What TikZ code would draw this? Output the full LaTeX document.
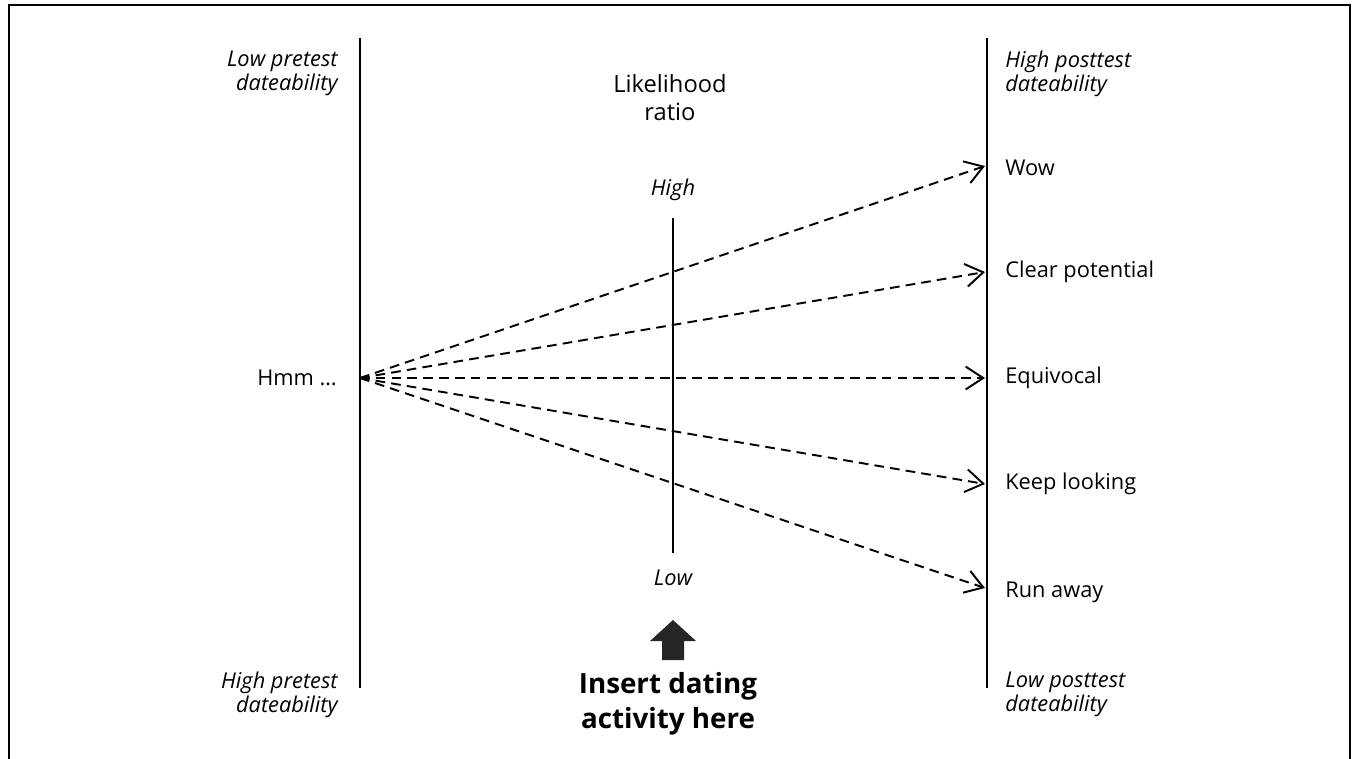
\documentclass[tikz,border=0pt]{standalone}
\usepackage{fontspec}
\setmainfont{Open Sans}
\usepackage{tikz}
\usetikzlibrary{arrows.meta,positioning}

\begin{document}
\begin{tikzpicture}[x=0.02cm, y=-0.02cm,
    axis/.style={line width=1.1pt},
    lab/.style={font=\fontsize{12.4}{13.6}\selectfont, inner sep=0pt, align=left},
    ilab/.style={font=\fontsize{12.4}{13.6}\selectfont\itshape, inner sep=0pt},
    guess/.style={dashed, line width=1.1pt, dash pattern=on 5.5pt off 3.5pt,
        -{Straight Barb[length=10pt, width=13pt, line width=1.1pt]}}]
% nomogram for the dateability of a first meeting

\useasboundingbox (0,0) rectangle (1355,758);
\draw[line width=0.8pt] (9,760) -- (9,5) -- (1350,5) -- (1350,760);

% the three scales
\coordinate (pretop) at (360,38);
\coordinate (prebot) at (360,688);
\coordinate (posttop) at (987,38);
\coordinate (postbot) at (987,688);
\draw[axis] (pretop) -- (prebot);
\draw[axis] (posttop) -- (postbot);
\node[ilab] (lrhigh) at (673,190) {High};
\node[ilab] (lrlow) at (673,578) {Low};
\draw[line width=0.6pt] (673,218) -- (673,553);
\node[font=\fontsize{13.5}{16}\selectfont, align=center, inner sep=0pt] (lrtitle)
    at (670,98) {Likelihood\\ratio};

% scale ends
\node[ilab, align=right, anchor=north east] (lowpre) at (338,51) {Low pretest\\dateability};
\node[ilab, align=right, anchor=north east] (highpre) at (338,672) {High pretest\\dateability};
\node[ilab, align=left, anchor=north west] (highpost) at (1005,51) {High posttest\\dateability};
\node[ilab, align=left, anchor=north west] (lowpost) at (1005,672) {Low posttest\\dateability};

% pretest point and outcomes
\coordinate (hmmpt) at (360,378);
\node[lab, anchor=east] (hmm) at (337,378) {Hmm \dots};
\coordinate (wowpt) at (985,166);
\coordinate (clearpt) at (985,272);
\coordinate (equipt) at (985,378);
\coordinate (keeppt) at (985,484);
\coordinate (runpt) at (985,588);
\node[lab, anchor=west] (wow) at (1005,168) {Wow};
\node[lab, anchor=west] (clear) at (1005,272) {Clear potential};
\node[lab, anchor=west] (equi) at (1005,378) {Equivocal};
\node[lab, anchor=west] (keep) at (1005,484) {Keep looking};
\node[lab, anchor=west] (run) at (1005,592) {Run away};
\foreach \e in {wowpt,clearpt,equipt,keeppt,runpt}
    \draw[guess] (hmmpt) -- (\e);

% where the test goes in
\fill[black!85] (673,620) -- (696,641) -- (684,641) -- (684,660)
    -- (662,660) -- (662,641) -- (650,641) -- cycle;
\node[font=\fontsize{15.8}{20}\selectfont\bfseries, align=center, inner sep=0pt]
    (insert) at (668,704) {Insert dating\\activity here};

\end{tikzpicture}
\end{document}
